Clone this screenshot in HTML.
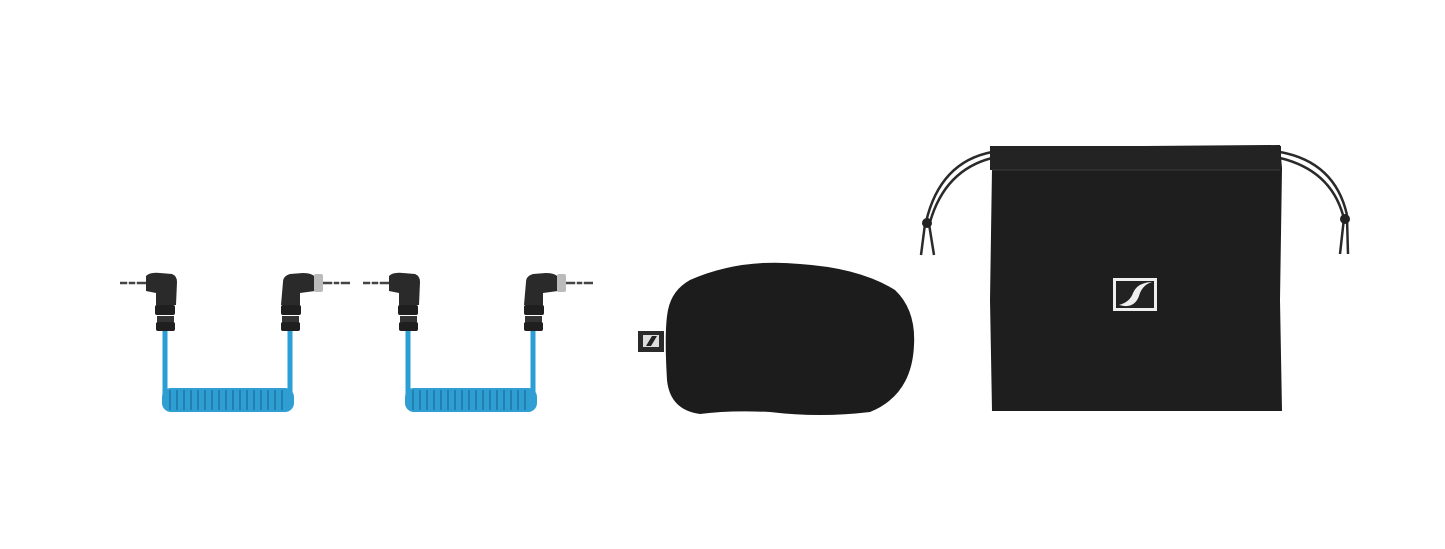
<!DOCTYPE html>
<html><head><style>html,body{margin:0;padding:0;background:#fff;width:1445px;height:549px;overflow:hidden}</style></head>
<body>
<svg width="1445" height="549" viewBox="0 0 1445 549" xmlns="http://www.w3.org/2000/svg">
<defs>
<g id="cable">
  <!-- left jack -->
  <line x1="120" y1="283" x2="148" y2="283" stroke="#444" stroke-width="2.5"/>
  <line x1="128" y1="279" x2="128" y2="287" stroke="#fff" stroke-width="1.5"/>
  <line x1="136" y1="279" x2="136" y2="287" stroke="#fff" stroke-width="1.5"/>
  <path d="M146 276 Q150 272 160 273 L172 274 Q177 276 177 282 L176 305 L156 305 L156 293 L146 291 Z" fill="#2a2a2a"/>
  <rect x="155" y="305" width="20" height="10" rx="2" fill="#1f1f1f"/>
  <rect x="157" y="316" width="17" height="6" fill="#333"/>
  <rect x="156" y="322" width="19" height="9" rx="2" fill="#1f1f1f"/>
  <!-- cable -->
  <path d="M165 331 L165 400" stroke="#2a9fd6" stroke-width="5" fill="none"/>
  <path d="M290 331 L290 400" stroke="#2a9fd6" stroke-width="5" fill="none"/>
  <rect x="162" y="388" width="132" height="24" rx="9" fill="#2f9fd3"/>
  <g stroke="#1a6f9e" stroke-width="1.3">
    <line x1="170" y1="390" x2="170" y2="410"/><line x1="177" y1="390" x2="177" y2="410"/><line x1="184" y1="390" x2="184" y2="410"/><line x1="191" y1="390" x2="191" y2="410"/><line x1="198" y1="390" x2="198" y2="410"/><line x1="205" y1="390" x2="205" y2="410"/><line x1="212" y1="390" x2="212" y2="410"/><line x1="219" y1="390" x2="219" y2="410"/><line x1="226" y1="390" x2="226" y2="410"/><line x1="233" y1="390" x2="233" y2="410"/><line x1="240" y1="390" x2="240" y2="410"/><line x1="247" y1="390" x2="247" y2="410"/><line x1="254" y1="390" x2="254" y2="410"/><line x1="261" y1="390" x2="261" y2="410"/><line x1="268" y1="390" x2="268" y2="410"/><line x1="275" y1="390" x2="275" y2="410"/><line x1="282" y1="390" x2="282" y2="410"/>
  </g>
  <!-- right plug -->
  <path d="M283 282 Q283 276 290 274 L303 273 Q312 273 315 277 L315 291 L300 293 L300 305 L281 305 Z" fill="#2a2a2a"/>
  <rect x="281" y="305" width="20" height="10" rx="2" fill="#1f1f1f"/>
  <rect x="282" y="316" width="17" height="6" fill="#333"/>
  <rect x="281" y="322" width="19" height="9" rx="2" fill="#1f1f1f"/>
  <rect x="314" y="274" width="9" height="18" rx="2" fill="#bbb"/>
  <line x1="323" y1="283" x2="350" y2="283" stroke="#444" stroke-width="2.5"/>
  <line x1="333" y1="279" x2="333" y2="287" stroke="#fff" stroke-width="1.5"/>
  <line x1="340" y1="279" x2="340" y2="287" stroke="#fff" stroke-width="1.5"/>
</g>
</defs>
<use href="#cable"/>
<use href="#cable" transform="translate(243,0)"/>

<!-- windscreen -->
<path d="M690 280 Q740 258 800 264 Q860 268 895 290 Q916 310 914 345 Q912 395 870 412 Q820 418 770 412 Q730 410 700 414 Q670 410 667 380 Q664 330 668 310 Q672 290 690 280 Z" fill="#1c1c1c"/>
<rect x="638" y="331" width="26" height="21" fill="#2a2a2a"/>
<rect x="643" y="335" width="16" height="12" fill="#ddd"/>
<path d="M646 346 L652 336 L657 336 L651 346 Z" fill="#222"/>

<!-- drawstrings -->
<g stroke="#2a2a2a" stroke-width="2.5" fill="none">
  <path d="M992 152 Q940 162 926 222"/>
  <path d="M992 158 Q945 170 930 222"/>
  <path d="M925 224 L921 255"/>
  <path d="M929 224 L934 255"/>
  <path d="M1280 152 Q1335 162 1347 215"/>
  <path d="M1280 158 Q1330 170 1343 215"/>
  <path d="M1344 218 L1340 254"/>
  <path d="M1347 218 L1348 254"/>
</g>
<circle cx="927" cy="223" r="5" fill="#222"/>
<circle cx="1345" cy="219" r="5" fill="#222"/>

<!-- pouch -->
<path d="M990 147 L1280 145 L1282 168 L1280 300 L1282 411 L992 411 L990 300 L992 168 Z" fill="#1e1e1e"/>
<rect x="990" y="146" width="291" height="24" fill="#232323"/>
<line x1="992" y1="170" x2="1280" y2="170" stroke="#333" stroke-width="1.5"/>
<rect x="1113" y="278" width="44" height="33" fill="#eee"/>
<rect x="1116" y="281" width="38" height="27" fill="#222"/>
<path d="M1119 305 Q1130 302 1133 293 Q1137 283 1151 282 L1152 282 Q1142 285 1139 296 Q1135 307 1124 306 Z" fill="#eee"/>
</svg>
</body></html>
